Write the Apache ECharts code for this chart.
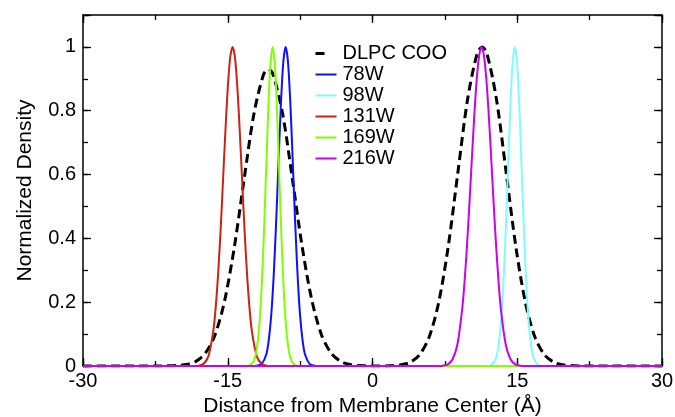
<!DOCTYPE html>
<html>
<head>
<meta charset="utf-8">
<script src="https://cdn.jsdelivr.net/npm/echarts@6/dist/echarts.min.js"></script>
<style>
html,body{margin:0;padding:0;background:#fff;}
#chart{width:675px;height:417px;}
</style>
</head>
<body>
<div id="chart"></div>
<script>
// ---- Data ----
const seriesNames = ['DLPC COO', '78W', '98W', '131W', '169W', '216W'];
const xTicks = [-30, -15, 0, 15, 30];
const yTicks = [0, 0.2, 0.4, 0.6, 0.8, 1];

const dlpcCOO = [
  [-30, 0], [-22.3, 0.0002], [-21.3, 0.0004], [-20.3, 0.0013], [-19.3, 0.0045], [-18.3, 0.0145],
  [-17.3, 0.041], [-16.3, 0.099], [-15.3, 0.208], [-14.3, 0.376], [-13.3, 0.586],
  [-12.3, 0.788], [-11.3, 0.913], [-10.8, 0.93], [-10.3, 0.913], [-9.3, 0.788],
  [-8.3, 0.586], [-7.3, 0.376], [-6.3, 0.208], [-5.3, 0.099], [-4.3, 0.041],
  [-3.3, 0.0145], [-2.3, 0.0045], [-1.3, 0.0012], [-0.3, 0.0003], [0.85, 0.0002],
  [1.85, 0.0008], [2.85, 0.003], [3.85, 0.011], [4.85, 0.034], [5.85, 0.089],
  [6.85, 0.198], [7.85, 0.375], [8.85, 0.607], [9.85, 0.835], [10.85, 0.98],
  [11.35, 1.0], [11.85, 0.98], [12.85, 0.835], [13.85, 0.607], [14.85, 0.375],
  [15.85, 0.198], [16.85, 0.089], [17.85, 0.034], [18.85, 0.011], [19.85, 0.003],
  [20.85, 0.0008], [21.85, 0.0002], [30, 0]
];
const w78 = [
  [-30, 0], [-12.5, 0], [-12, 0.001], [-11.5, 0.006], [-11, 0.037], [-10.75, 0.081],
  [-10.5, 0.157], [-10.25, 0.277], [-10, 0.44], [-9.75, 0.63], [-9.5, 0.814],
  [-9.25, 0.95], [-9, 1], [-8.75, 0.95], [-8.5, 0.814], [-8.25, 0.63], [-8, 0.44],
  [-7.75, 0.277], [-7.5, 0.157], [-7.25, 0.081], [-7, 0.037], [-6.5, 0.006],
  [-6, 0.001], [-5.5, 0], [30, 0]
];
const w98 = [
  [-30, 0], [11.75, 0], [12.25, 0.002], [12.75, 0.021], [13, 0.052], [13.25, 0.114],
  [13.5, 0.222], [13.75, 0.381], [14, 0.581], [14.25, 0.786], [14.5, 0.942],
  [14.75, 1], [15, 0.942], [15.25, 0.786], [15.5, 0.581], [15.75, 0.381],
  [16, 0.222], [16.25, 0.114], [16.5, 0.052], [16.75, 0.021], [17.25, 0.002],
  [17.75, 0], [30, 0]
];
const w131 = [
  [-30, 0], [-18.5, 0], [-18, 0.001], [-17.5, 0.007], [-17, 0.031], [-16.5, 0.109],
  [-16.25, 0.183], [-16, 0.288], [-15.75, 0.42], [-15.5, 0.575], [-15.25, 0.732],
  [-15, 0.871], [-14.75, 0.966], [-14.5, 1], [-14.25, 0.966], [-14, 0.871],
  [-13.75, 0.732], [-13.5, 0.575], [-13.25, 0.42], [-13, 0.288], [-12.75, 0.183],
  [-12.5, 0.109], [-12, 0.031], [-11.5, 0.007], [-11, 0.001], [-10.5, 0], [30, 0]
];
const w169 = [
  [-30, 0], [-13.35, 0], [-12.85, 0.001], [-12.35, 0.013], [-12.1, 0.036], [-11.85, 0.088],
  [-11.6, 0.185], [-11.35, 0.339], [-11.1, 0.544], [-10.85, 0.763], [-10.6, 0.935],
  [-10.35, 1], [-10.1, 0.935], [-9.85, 0.763], [-9.6, 0.544], [-9.35, 0.339],
  [-9.1, 0.185], [-8.85, 0.088], [-8.6, 0.036], [-8.35, 0.013], [-7.85, 0.001],
  [-7.35, 0], [30, 0]
];
const w216 = [
  [-30, 0], [6.8, 0], [7.3, 0.001], [7.8, 0.005], [8.3, 0.021], [8.8, 0.068], [9.3, 0.18],
  [9.55, 0.269], [9.8, 0.381], [10.05, 0.512], [10.3, 0.651], [10.55, 0.786],
  [10.8, 0.898], [11.05, 0.973], [11.3, 1], [11.55, 0.973], [11.8, 0.898],
  [12.05, 0.786], [12.3, 0.651], [12.55, 0.512], [12.8, 0.381], [13.05, 0.269],
  [13.3, 0.18], [13.8, 0.068], [14.3, 0.021], [14.8, 0.005], [15.3, 0.001],
  [15.8, 0], [30, 0]
];
const seriesData = [dlpcCOO, w78, w98, w131, w169, w216];
const seriesColors = ['#000000', '#1010ff', '#80fcfc', '#cc2211', '#80ff00', '#cc00ee'];

// ---- Chart ----
const FONT = '"Liberation Sans", Arial, Helvetica, sans-serif';
const chart = echarts.init(document.getElementById('chart'), null, {renderer: 'canvas'});

const X_MIN = xTicks[0], X_MAX = xTicks[xTicks.length - 1];
const X_INT = xTicks[1] - xTicks[0];
const Y_MIN = yTicks[0], Y_INT = yTicks[1] - yTicks[0], Y_MAX = 1.1;

const G = {left: 83, right: 13, top: 15, bottom: 51};
const PLOT_W = 675 - G.left - G.right;   // 579
const PLOT_H = 417 - G.top - G.bottom;   // 351

const lineStyle = {color: '#000', width: 1.5};

// Main axes: labels, names, border lines (no ticks)
function mainX(position, labels, name) {
  return {
    type: 'value', position: position, min: X_MIN, max: X_MAX, interval: X_INT,
    name: name || '', nameLocation: 'middle', nameGap: 28,
    nameTextStyle: {fontFamily: FONT, fontSize: 21, color: '#000'},
    axisLine: {show: true, onZero: false, lineStyle: lineStyle},
    axisTick: {show: false},
    axisLabel: {show: labels, fontFamily: FONT, fontSize: 20, color: '#000', margin: 5},
    splitLine: {show: false}
  };
}
function mainY(position, labels, name) {
  return {
    type: 'value', position: position, min: Y_MIN, max: Y_MAX, interval: Y_INT,
    name: name || '', nameLocation: 'middle', nameGap: 47,
    nameTextStyle: {fontFamily: FONT, fontSize: 21, color: '#000'},
    axisLine: {show: true, onZero: false, lineStyle: lineStyle},
    axisTick: {show: false},
    axisLabel: {show: labels, fontFamily: FONT, fontSize: 20, color: '#000', margin: 7,
      showMaxLabel: false,
      formatter: function (v) { return yTicks.some(t => Math.abs(t - v) < 1e-9) ? String(+v.toFixed(1)) : ''; }},
    splitLine: {show: false}
  };
}
// Tick-only axes, placed on the opposite border so their outward ticks point into the plot
function tickX(position, offset, interval, len) {
  return {
    type: 'value', position: position, offset: offset, min: X_MIN, max: X_MAX, interval: interval,
    axisLine: {show: false, onZero: false},
    axisTick: {show: true, inside: false, length: len, lineStyle: {color: '#000', width: 1.3}},
    axisLabel: {show: false}, splitLine: {show: false}
  };
}
function tickY(position, offset, interval, len) {
  return {
    type: 'value', position: position, offset: offset, min: Y_MIN, max: Y_MAX, interval: interval,
    axisLine: {show: false, onZero: false},
    axisTick: {show: true, inside: false, length: len, lineStyle: {color: '#000', width: 1.3}},
    axisLabel: {show: false}, splitLine: {show: false}
  };
}

const option = {
  animation: false,
  backgroundColor: '#fff',
  grid: {left: G.left, right: G.right, top: G.top, bottom: G.bottom, containLabel: false, outerBoundsMode: 'none'},
  legend: {
    orient: 'vertical', left: 309, top: 38,
    itemWidth: 21, itemHeight: 14, itemGap: 0,
    itemStyle: {color: 'transparent', borderWidth: 0, opacity: 0},
    textStyle: {fontFamily: FONT, fontSize: 20, color: '#000', lineHeight: 21, padding: [0, 0, 0, 1]},
    data: seriesNames.map((n, i) => i === 0
      ? {name: n, lineStyle: {type: [9, 30], width: 3}}
      : {name: n})
  },
  xAxis: [
    mainX('bottom', true, 'Distance from Membrane Center (Å)'),
    mainX('top', false),
    tickX('top', -PLOT_H, X_INT, 8),       // sits on bottom border, ticks up
    tickX('top', -PLOT_H, X_INT / 2, 5),
    tickX('bottom', -PLOT_H, X_INT, 8),    // sits on top border, ticks down
    tickX('bottom', -PLOT_H, X_INT / 2, 5)
  ],
  yAxis: [
    mainY('left', true, 'Normalized Density'),
    mainY('right', false),
    tickY('right', -PLOT_W, Y_INT, 8),     // sits on left border, ticks right
    tickY('right', -PLOT_W, Y_INT / 2, 5),
    tickY('left', -PLOT_W, Y_INT, 8),      // sits on right border, ticks left
    tickY('left', -PLOT_W, Y_INT / 2, 5)
  ],
  series: seriesNames.map((n, i) => ({
    name: n, type: 'line', data: seriesData[i],
    xAxisIndex: 0, yAxisIndex: 0,
    showSymbol: false, symbol: 'none', smooth: 0.3,
    lineStyle: i === 0 ? {color: seriesColors[i], width: 3, type: [9, 5]} : {color: seriesColors[i], width: 2},
    itemStyle: {color: seriesColors[i]},
    emphasis: {disabled: true}
  }))
};
chart.setOption(option);
</script>
</body>
</html>
